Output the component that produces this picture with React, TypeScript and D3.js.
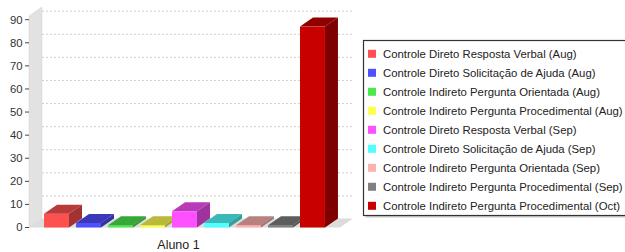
import * as d3 from 'd3';
import React, { useEffect, useRef } from 'react';

const categories = ["Aluno 1"];

const series = [
  "Controle Direto Resposta Verbal (Aug)",
  "Controle Direto Solicitação de Ajuda (Aug)",
  "Controle Indireto Pergunta Orientada (Aug)",
  "Controle Indireto Pergunta Procedimental (Aug)",
  "Controle Direto Resposta Verbal (Sep)",
  "Controle Direto Solicitação de Ajuda (Sep)",
  "Controle Indireto Pergunta Orientada (Sep)",
  "Controle Indireto Pergunta Procedimental (Sep)",
  "Controle Indireto Pergunta Procedimental (Oct)"
];

const values = [6, 2, 1, 1, 7, 2, 1, 1, 87];

const colors = [
  "#ff5050",
  "#5050ff",
  "#4ce84c",
  "#ffff50",
  "#ff50ff",
  "#50ffff",
  "#ffb0b0",
  "#808080",
  "#c80000"
];

const yTicks = [0, 10, 20, 30, 40, 50, 60, 70, 80, 90];

export default function App() {
  const svgRef = useRef(null);
  const W = 625;
  const H = 252;

  useEffect(() => {
    const svg = d3.select(svgRef.current);
    svg.selectAll("*").remove();

    // 3d depth offset
    const dx = 13;
    const dy = 9;
    const left = 29;
    const right = 340;

    const y = d3.scaleLinear().domain([0, 91.6]).range([227.5, 16]);
    const x0 = d3.scaleBand().domain(categories).range([left, right]);
    const x1 = d3.scaleBand().domain(series)
      .range([0, x0.bandwidth()])
      .paddingInner(0.22)
      .paddingOuter(0.47);

    const [y0, yTop] = y.range();

    // side wall
    svg.append("path")
      .attr("d", `M${left},${y0}L${left + dx},${y0 - dy}L${left + dx},${yTop - dy}L${left},${yTop}Z`)
      .attr("fill", "#e2e2e2")
      .attr("stroke", "#d0d0d0")
      .attr("stroke-width", 0.5);

    // floor
    svg.append("path")
      .attr("d", `M${left},${y0}L${right},${y0}L${right + dx},${y0 - dy}L${left + dx},${y0 - dy}Z`)
      .attr("fill", "#dcdcdc");

    // gridlines on back wall
    svg.append("g")
      .selectAll("line")
      .data(yTicks.filter(t => t > 0))
      .join("line")
      .attr("x1", left + dx)
      .attr("x2", right + dx)
      .attr("y1", d => y(d) - dy + 0.5)
      .attr("y2", d => y(d) - dy + 0.5)
      .attr("stroke", "#cfcfcf")
      .attr("stroke-dasharray", "2,2");

    // y axis ticks + labels
    const yAxisGroup = svg.append("g");
    yAxisGroup.selectAll("line")
      .data(yTicks)
      .join("line")
      .attr("x1", 25)
      .attr("x2", 29)
      .attr("y1", d => y(d))
      .attr("y2", d => y(d))
      .attr("stroke", "#444");
    yAxisGroup.selectAll("text")
      .data(yTicks)
      .join("text")
      .attr("x", 22.5)
      .attr("y", d => y(d))
      .attr("dy", "0.35em")
      .attr("text-anchor", "end")
      .attr("font-family", "Liberation Sans, Arial, sans-serif")
      .attr("font-size", 11.3)
      .attr("fill", "#333")
      .text(d => `${d}`);

    // bars
    const bars = svg.append("g")
      .selectAll("g")
      .data(series.map((s, i) => ({ s, v: values[i], c: colors[i] })))
      .join("g");

    const bx = (d) => x0(categories[0])! + x1(d.s)!;
    const bw = x1.bandwidth();

    // front
    bars.append("rect")
      .attr("x", d => bx(d))
      .attr("y", d => y(d.v))
      .attr("width", bw)
      .attr("height", d => y0 - y(d.v))
      .attr("fill", d => d.c);
    // top
    bars.append("path")
      .attr("d", d => {
        const x = bx(d), t = y(d.v);
        return `M${x},${t}L${x + dx},${t - dy}L${x + bw + dx},${t - dy}L${x + bw},${t}Z`;
      })
      .attr("fill", d => d3.color(d.c)!.darker(0.9).formatHex());
    // side
    bars.append("path")
      .attr("d", d => {
        const x = bx(d) + bw, t = y(d.v);
        return `M${x},${t}L${x + dx},${t - dy}L${x + dx},${y0 - dy}L${x},${y0}Z`;
      })
      .attr("fill", d => d3.color(d.c)!.darker(1.3).formatHex());

    // category label
    svg.append("text")
      .attr("x", x0(categories[0])! + x0.bandwidth() / 2 - 6)
      .attr("y", 249)
      .attr("text-anchor", "middle")
      .attr("font-family", "Liberation Sans, Arial, sans-serif")
      .attr("font-size", 12.5)
      .attr("fill", "#222")
      .text(categories[0]);

    // legend
    const lg = svg.append("g");
    lg.append("rect")
      .attr("x", 365.5)
      .attr("y", 42.5)
      .attr("width", 270)
      .attr("height", 175)
      .attr("fill", "#c8c8c8");
    lg.append("rect")
      .attr("x", 363.5)
      .attr("y", 40.5)
      .attr("width", 270)
      .attr("height", 175)
      .attr("fill", "white")
      .attr("stroke", "#333")
      .attr("stroke-width", 1.2);

    const rows = lg.selectAll("g.row")
      .data(series.map((s, i) => ({ s, c: colors[i] })))
      .join("g")
      .attr("class", "row")
      .attr("transform", (d, i) => `translate(0, ${53.8 + i * 19})`);
    rows.append("rect")
      .attr("x", 368)
      .attr("y", -4)
      .attr("width", 8)
      .attr("height", 8)
      .attr("fill", d => d.c);
    rows.append("text")
      .attr("x", 383)
      .attr("dy", "0.35em")
      .attr("font-family", "Liberation Sans, Arial, sans-serif")
      .attr("font-size", 11.35)
      .attr("fill", "#222")
      .text(d => d.s);
  }, []);

  return (
    <svg ref={svgRef} width={W} height={H}
      style={{ position: "absolute", left: 0, top: 0, background: "white" }} />
  );
}
